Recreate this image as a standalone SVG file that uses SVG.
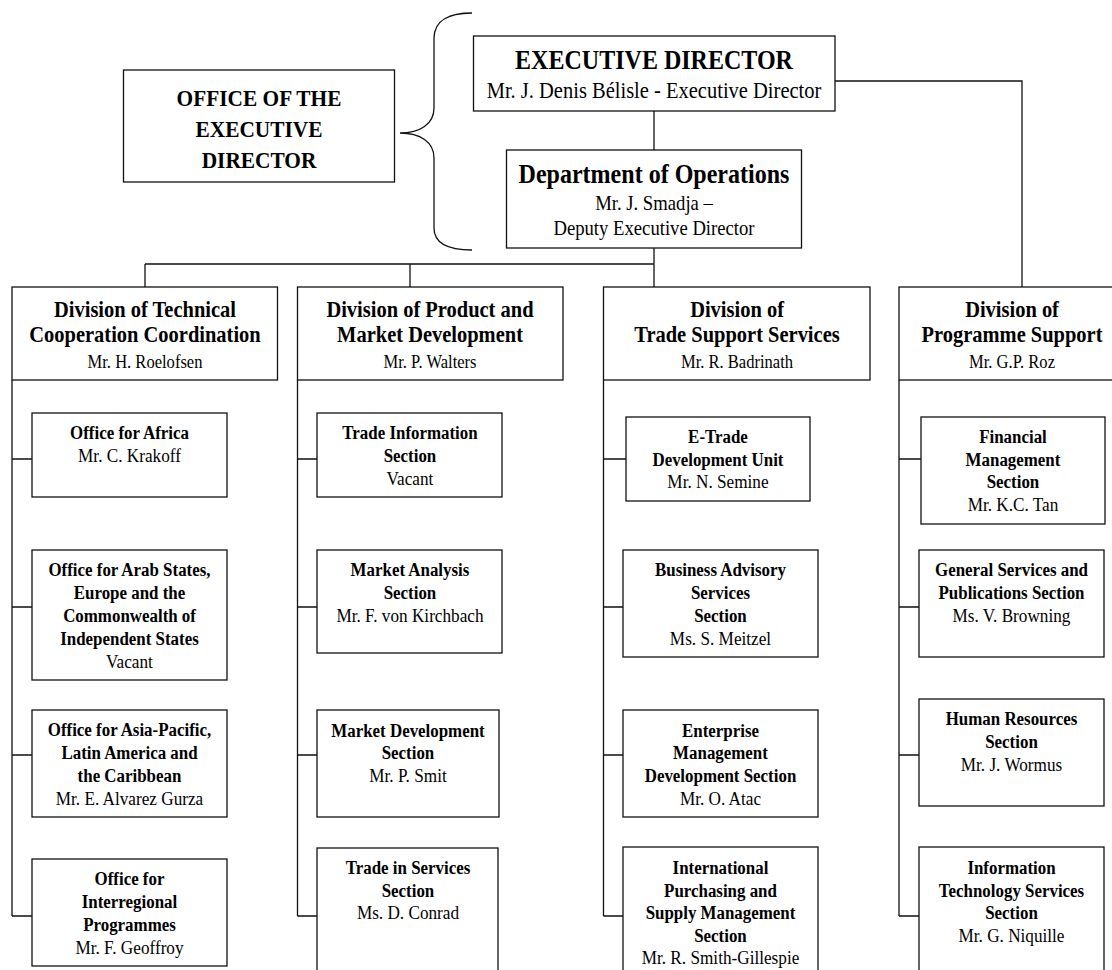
<svg xmlns="http://www.w3.org/2000/svg" width="1112" height="970" viewBox="0 0 1112 970">
<style>
text{font-family:"Liberation Serif","Times New Roman",serif;fill:#000;text-anchor:middle;transform-box:fill-box;transform-origin:center}
.b{font-weight:bold;transform:scaleX(0.89)}
.r{transform:scaleX(0.92)}
.box{fill:#fff;stroke:#111;stroke-width:1.3}
.ln{fill:none;stroke:#111;stroke-width:1.3}
.s24{font-size:24px}.s27{font-size:27px}.s22{font-size:22.3px}.s20{font-size:20.3px}
.s23{font-size:23px}.s18{font-size:18px}.s19{font-size:19px}.s187{font-size:18.7px}
</style>
<rect width="1112" height="970" fill="#fff"/>
<g id="connectors">
<path class="ln" d="M472,13 C450,13 434,20 434,38 L434,108 C434,124 420,133 400,133 C420,133 434,142 434,158 L434,228 C434,244 450,250 472,250"/>
<path class="ln" d="M654,111V150M654,248V287M145,264H654M145,264V287M410,264V287M835,81H1022V287"/>
<path class="ln" d="M12,380V916M12,459H32M12,607H32M12,755H32M12,916H32"/>
<path class="ln" d="M297.5,380V916M297.5,459H317M297.5,607H317M297.5,755H317M297.5,916H317"/>
<path class="ln" d="M603.5,380V916M603.5,459H626M603.5,607H623M603.5,755H623M603.5,916H623"/>
<path class="ln" d="M899,380V916M899,459H921M899,607H919M899,755H919M899,916H919"/>
</g>
<g id="office">
<rect class="box" x="123.5" y="70" width="271" height="112"/>
<text class="b s24" x="259" y="106">OFFICE OF THE</text>
<text class="b s24" x="259" y="137">EXECUTIVE</text>
<text class="b s24" x="259" y="168">DIRECTOR</text>
</g>
<g id="exec">
<rect class="box" x="473.5" y="36" width="361.5" height="75"/>
<text class="b s27" x="654" y="69">EXECUTIVE DIRECTOR</text>
<text class="r s22" x="654" y="98">Mr. J. Denis Bélisle - Executive Director</text>
</g>
<g id="dept">
<rect class="box" x="506.5" y="150" width="295" height="98"/>
<text class="b s27" x="654" y="183">Department of Operations</text>
<text class="r s20" x="654" y="210">Mr. J. Smadja –</text>
<text class="r s20" x="654" y="235">Deputy Executive Director</text>
</g>
<g id="div1">
<rect class="box" x="12" y="287" width="265.5" height="93"/>
<text class="b s23" x="145" y="317">Division of Technical</text>
<text class="b s23" x="145" y="342.5">Cooperation Coordination</text>
<text class="r s18" x="145" y="368">Mr. H. Roelofsen</text>
</g>
<g id="div2">
<rect class="box" x="297.5" y="287" width="265.5" height="93"/>
<text class="b s23" x="430" y="317">Division of Product and</text>
<text class="b s23" x="430" y="342.5">Market Development</text>
<text class="r s18" x="430" y="368">Mr. P. Walters</text>
</g>
<g id="div3">
<rect class="box" x="603.5" y="287" width="266.5" height="93"/>
<text class="b s23" x="737" y="317">Division of</text>
<text class="b s23" x="737" y="342.5">Trade Support Services</text>
<text class="r s18" x="737" y="368">Mr. R. Badrinath</text>
</g>
<g id="div4">
<rect class="box" x="899" y="287" width="226" height="93"/>
<text class="b s23" x="1012" y="317">Division of</text>
<text class="b s23" x="1012" y="342.5">Programme Support</text>
<text class="r s18" x="1012" y="368">Mr. G.P. Roz</text>
</g>
<g id="c1a">
<rect class="box" x="32" y="413" width="195" height="84"/>
<text class="b s19" x="129.5" y="439">Office for Africa</text>
<text class="r s187" x="129.5" y="462">Mr. C. Krakoff</text>
</g>
<g id="c1b">
<rect class="box" x="32" y="550" width="195" height="130"/>
<text class="b s19" x="129.5" y="576">Office for Arab States,</text>
<text class="b s19" x="129.5" y="599">Europe and the</text>
<text class="b s19" x="129.5" y="622">Commonwealth of</text>
<text class="b s19" x="129.5" y="645">Independent States</text>
<text class="r s187" x="129.5" y="668">Vacant</text>
</g>
<g id="c1c">
<rect class="box" x="32" y="710" width="195" height="107"/>
<text class="b s19" x="129.5" y="736">Office for Asia-Pacific,</text>
<text class="b s19" x="129.5" y="759">Latin America and</text>
<text class="b s19" x="129.5" y="782">the Caribbean</text>
<text class="r s187" x="129.5" y="805">Mr. E. Alvarez Gurza</text>
</g>
<g id="c1d">
<rect class="box" x="32" y="859" width="195" height="107"/>
<text class="b s19" x="129.5" y="885">Office for</text>
<text class="b s19" x="129.5" y="908">Interregional</text>
<text class="b s19" x="129.5" y="931">Programmes</text>
<text class="r s187" x="129.5" y="954">Mr. F. Geoffroy</text>
</g>
<g id="c2a">
<rect class="box" x="317" y="413" width="185" height="84"/>
<text class="b s19" x="410" y="439">Trade Information</text>
<text class="b s19" x="410" y="462">Section</text>
<text class="r s187" x="410" y="485">Vacant</text>
</g>
<g id="c2b">
<rect class="box" x="317" y="550" width="185" height="103"/>
<text class="b s19" x="410" y="576">Market Analysis</text>
<text class="b s19" x="410" y="599">Section</text>
<text class="r s187" x="410" y="622">Mr. F. von Kirchbach</text>
</g>
<g id="c2c">
<rect class="box" x="317" y="710" width="182" height="107"/>
<text class="b s19" x="408" y="737">Market Development</text>
<text class="b s19" x="408" y="759">Section</text>
<text class="r s187" x="408" y="782">Mr. P. Smit</text>
</g>
<g id="c2d">
<rect class="box" x="317" y="848" width="181" height="140"/>
<text class="b s19" x="408" y="874">Trade in Services</text>
<text class="b s19" x="408" y="897">Section</text>
<text class="r s187" x="408" y="919">Ms. D. Conrad</text>
</g>
<g id="c3a">
<rect class="box" x="626" y="417" width="184" height="84"/>
<text class="b s19" x="718" y="443">E-Trade</text>
<text class="b s19" x="718" y="466">Development Unit</text>
<text class="r s187" x="718" y="488">Mr. N. Semine</text>
</g>
<g id="c3b">
<rect class="box" x="623" y="550" width="195" height="107"/>
<text class="b s19" x="720.5" y="576">Business Advisory</text>
<text class="b s19" x="720.5" y="599">Services</text>
<text class="b s19" x="720.5" y="622">Section</text>
<text class="r s187" x="720.5" y="645">Ms. S. Meitzel</text>
</g>
<g id="c3c">
<rect class="box" x="623" y="710" width="195" height="107"/>
<text class="b s19" x="720.5" y="737">Enterprise</text>
<text class="b s19" x="720.5" y="759">Management</text>
<text class="b s19" x="720.5" y="782">Development Section</text>
<text class="r s187" x="720.5" y="805">Mr. O. Atac</text>
</g>
<g id="c3d">
<rect class="box" x="623" y="847" width="195" height="140"/>
<text class="b s19" x="720.5" y="874">International</text>
<text class="b s19" x="720.5" y="897">Purchasing and</text>
<text class="b s19" x="720.5" y="919">Supply Management</text>
<text class="b s19" x="720.5" y="942">Section</text>
<text class="r s187" x="720.5" y="964">Mr. R. Smith-Gillespie</text>
</g>
<g id="c4a">
<rect class="box" x="921" y="417" width="184" height="107"/>
<text class="b s19" x="1013" y="443">Financial</text>
<text class="b s19" x="1013" y="466">Management</text>
<text class="b s19" x="1013" y="488">Section</text>
<text class="r s187" x="1013" y="511">Mr. K.C. Tan</text>
</g>
<g id="c4b">
<rect class="box" x="919" y="550" width="185" height="107"/>
<text class="b s19" x="1011.5" y="576">General Services and</text>
<text class="b s19" x="1011.5" y="599">Publications Section</text>
<text class="r s187" x="1011.5" y="622">Ms. V. Browning</text>
</g>
<g id="c4c">
<rect class="box" x="919" y="699" width="185" height="107"/>
<text class="b s19" x="1011.5" y="725">Human Resources</text>
<text class="b s19" x="1011.5" y="748">Section</text>
<text class="r s187" x="1011.5" y="771">Mr. J. Wormus</text>
</g>
<g id="c4d">
<rect class="box" x="919" y="847" width="185" height="140"/>
<text class="b s19" x="1011.5" y="874">Information</text>
<text class="b s19" x="1011.5" y="897">Technology Services</text>
<text class="b s19" x="1011.5" y="919">Section</text>
<text class="r s187" x="1011.5" y="942">Mr. G. Niquille</text>
</g>
</svg>
